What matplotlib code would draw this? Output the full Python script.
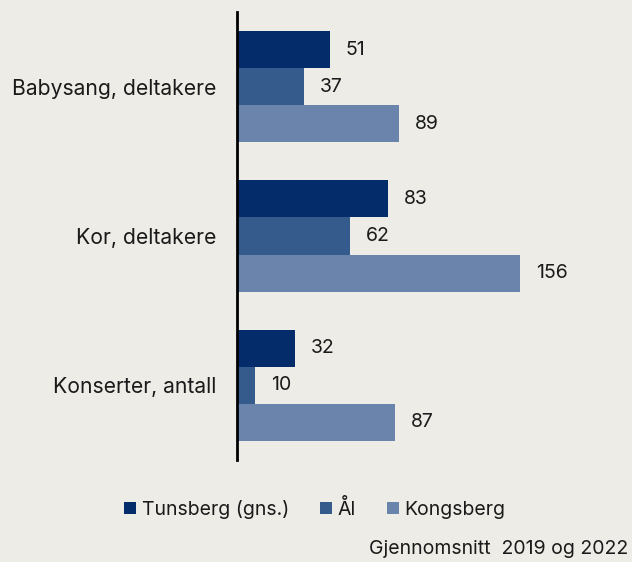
import matplotlib
matplotlib.use("Agg")
import matplotlib.pyplot as plt
import numpy as np

plt.rcParams['font.family'] = ['Inter', 'DejaVu Sans']

categories = ["Babysang, deltakere", "Kor, deltakere", "Konserter, antall"]
series_names = ["Tunsberg (gns.)", "Ål", "Kongsberg"]
tunsberg = [51, 83, 32]
aal = [37, 62, 10]
kongsberg = [89, 156, 87]
colors = ["#042C6B", "#355A8C", "#6A84AB"]
caption = "Gjennomsnitt  2019 og 2022"

bg = "#EDECE7"
txt = "#1a1a1a"
fig = plt.figure(figsize=(6.32, 5.62), dpi=100, facecolor=bg)
ax = fig.add_axes([237/632, 1 - 460/562, (600-237)/632, (460-12)/562])
ax.set_facecolor(bg)

y = np.arange(len(categories))
h = 0.248
for i, (vals, name, c) in enumerate(zip([tunsberg, aal, kongsberg], series_names, colors)):
    pos = y + (i - 1) * h
    ax.barh(pos, vals, height=h, color=c, label=name)
    for p, v in zip(pos, vals):
        ax.annotate(str(v), (v, p), xytext=(16, 0), textcoords="offset pixels",
                    va="center", ha="left", fontsize=14, color=txt)

ax.set_ylim(2.5, -0.5)
ax.set_xlim(0, 200)
ax.set_yticks(y)
ax.set_yticklabels(categories, fontsize=15.2, color=txt)
ax.tick_params(axis="y", length=0, pad=15)
ax.set_xticks([])
for s in ["top", "right", "bottom"]:
    ax.spines[s].set_visible(False)
ax.spines["left"].set_linewidth(2)
ax.spines["left"].set_color("black")

handles, labels = ax.get_legend_handles_labels()
fig.legend(handles, labels, loc="center", bbox_to_anchor=(315/632, 1 - 509/562),
           ncol=3, frameon=False, fontsize=14, handlelength=0.6, handleheight=0.6,
           handletextpad=0.3, columnspacing=1.6, labelcolor=txt)
fig.text(628/632, 1 - 549/562, caption, ha="right", va="center", fontsize=14, color=txt)

fig.savefig("out.png", dpi=100, facecolor=bg)
